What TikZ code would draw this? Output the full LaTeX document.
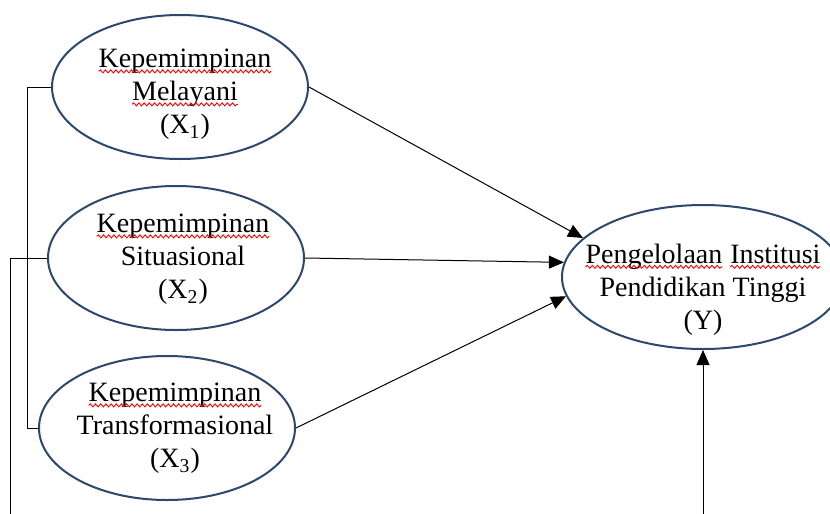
\documentclass[tikz,border=0pt]{standalone}
\usepackage{fontspec}
\setmainfont{Liberation Serif}
\usetikzlibrary{shapes.geometric,arrows.meta,decorations.pathmorphing}
\definecolor{ellblue}{RGB}{44,72,108}
\newcommand\wavyword[1]{\tikz[baseline=(ww.base)]{\node[inner sep=0pt,outer sep=0pt](ww){#1};\draw[red,line width=0.45pt,decorate,decoration={snake,amplitude=0.75pt,segment length=2.6pt}]([yshift=-1.8pt]ww.base west)--([yshift=-1.8pt]ww.base east);}}
\begin{document}
\begin{tikzpicture}[x=0.5pt,y=-0.5pt,
  ell/.style={draw=ellblue,line width=1pt,ellipse,inner sep=0pt,minimum width=128pt,minimum height=72pt},
  lbl/.style={align=center,font=\fontsize{14}{16.5}\selectfont,inner sep=0pt},
  link/.style={draw=black,line width=0.5pt},
  arr/.style={link,-{Triangle[length=7.5pt,width=6.5pt]}}]
\useasboundingbox (0,0) rectangle (830,514);
\clip (0,0) rectangle (830,514);
\fill[white] (0,0) rectangle (830,514);
\node[ell] (e1) at (180,87) {};
\node[ell] (e2) at (176,258) {};
\node[ell] (e3) at (167,428) {};
\node[ell,minimum width=141pt] (e4) at (703,277) {};
\node[lbl] (t1) at (185,94.5) {\wavyword{Kepemimpinan}\\\wavyword{Melayani}\\(X\textsubscript{1})};
\node[lbl] (t2) at (183,259.5) {\wavyword{Kepemimpinan}\\Situasional\\(X\textsubscript{2})};
\node[lbl] (t3) at (175,428.5) {\wavyword{Kepemimpinan}\\Transformasional\\(X\textsubscript{3})};
\node[lbl] (t4) at (703,289.5) {\wavyword{Pengelolaan} \wavyword{Institusi}\\Pendidikan Tinggi\\(Y)};
\draw[arr] (e1.east) -- (e4.162);
\draw[arr] (e2.east) -- (e4.174);
\draw[arr] (e3.east) -- (e4.188);
\draw[link] (e1.west) -- ++(-24,0) |- (e3.west);
\draw[arr] (e2.west) -- (10,258) -- (10,540) -| (e4.south);
\end{tikzpicture}
\end{document}
